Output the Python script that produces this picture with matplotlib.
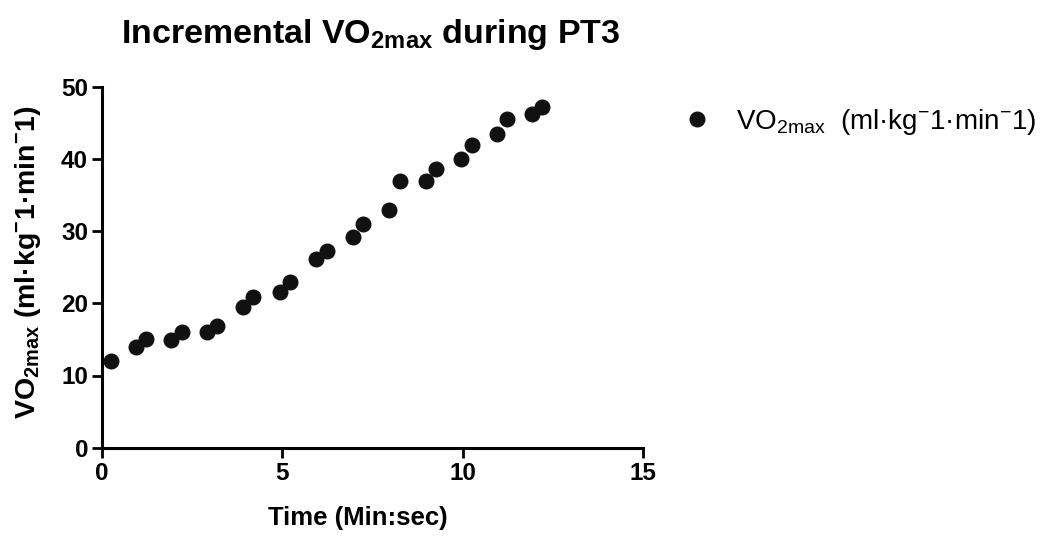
import matplotlib
matplotlib.use("Agg")
import matplotlib.pyplot as plt

# Data
time_min = [0.24, 0.94, 1.22, 1.92, 2.21, 2.91, 3.20, 3.91, 4.20, 4.93, 5.22,
            5.94, 6.24, 6.95, 7.24, 7.97, 8.26, 8.97, 9.27, 9.96, 10.25, 10.94,
            11.24, 11.92, 12.21]
vo2 = [12.0, 14.0, 15.0, 14.9, 16.0, 16.0, 16.9, 19.5, 20.9, 21.5, 23.0,
       26.2, 27.2, 29.2, 31.0, 32.9, 36.9, 36.9, 38.6, 40.0, 41.9, 43.5,
       45.5, 46.2, 47.2]
x_ticks = [0, 5, 10, 15]
y_ticks = [0, 10, 20, 30, 40, 50]

plt.rcParams['font.family'] = ['Liberation Sans', 'DejaVu Sans']
plt.rcParams['mathtext.fontset'] = 'custom'
plt.rcParams['mathtext.rm'] = 'Liberation Sans'
plt.rcParams['mathtext.it'] = 'Liberation Sans:italic'
plt.rcParams['mathtext.bf'] = 'Liberation Sans:bold'

W, H = 1042, 537
fig = plt.figure(figsize=(W / 100, H / 100), dpi=100)
x0, x1 = 102, 643
ytop, ybot = 86.7, 447.7
ax = fig.add_axes([x0 / W, 1 - ybot / H, (x1 - x0) / W, (ybot - ytop) / H])

ax.plot(time_min, vo2, 'o', color='#111111', markersize=10.5, linestyle='none',
        label=r'VO$_{\mathrm{2max}}$  (ml·kg$^{\mathrm{-}}$1·min$^{\mathrm{-}}$1)',
        clip_on=False)

ax.set_xlim(0, 15)
ax.set_ylim(0, 50)
ax.set_xticks(x_ticks)
ax.set_yticks(y_ticks)
for s in ['top', 'right']:
    ax.spines[s].set_visible(False)
for s in ['left', 'bottom']:
    ax.spines[s].set_linewidth(2.2)
ax.tick_params(direction='out', length=7, width=2.0, labelsize=17.5, pad=3)
for lab in ax.get_xticklabels() + ax.get_yticklabels():
    lab.set_fontweight('bold')

ax.set_xlabel('Time (Min:sec)', fontsize=18.5, fontweight='bold')
ax.xaxis.set_label_coords((358 - x0) / (x1 - x0), -(518 - ybot) / (ybot - ytop))
ax.xaxis.label.set_va('center')
ax.set_ylabel(r'VO$_{\mathbf{2max}}$ (ml·kg$^{\mathbf{-}}$1·min$^{\mathbf{-}}$1)',
              fontsize=20.5, fontweight='bold')
ax.yaxis.set_label_coords((28 - x0) / (x1 - x0), (ybot - 262) / (ybot - ytop))
ax.yaxis.label.set_va('center')

fig.text(371 / W, 1 - 35 / H, r'Incremental VO$_{\mathbf{2max}}$ during PT3',
         fontsize=24.5, fontweight='bold', ha='center', va='center')

leg = ax.legend(loc='center left', bbox_to_anchor=(683 / W, 1 - 122 / H),
                bbox_transform=fig.transFigure, frameon=False, fontsize=20,
                handletextpad=0.9, handlelength=1.0, borderpad=0, borderaxespad=0)

fig.savefig('out.png', dpi=100)
